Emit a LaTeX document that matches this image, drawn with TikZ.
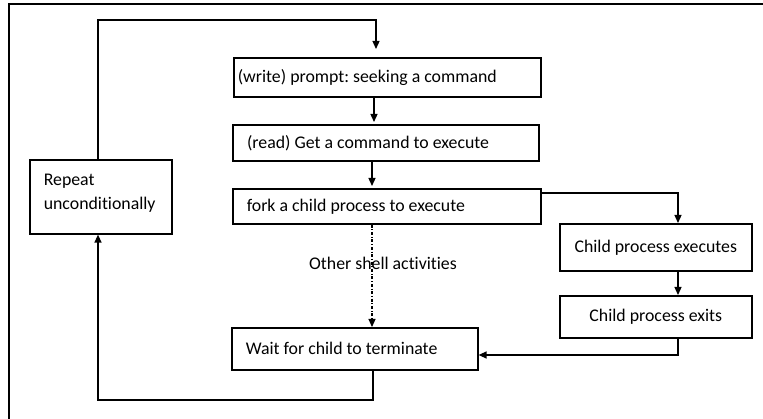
\documentclass[tikz,border=0pt]{standalone}
\usepackage{fontspec}
\setmainfont{Carlito}[Ligatures=NoCommon]
\usetikzlibrary{arrows.meta}
\frenchspacing
% use the font's own interword space inside aligned nodes
\newcommand{\fontspaces}{\spaceskip=0pt\xspaceskip=0pt\relax}
\begin{document}
\begin{tikzpicture}[x=1pt,y=-1pt,
  font=\fontsize{17.8}{25}\selectfont,
  box/.style={draw, line width=1.6pt, rectangle, anchor=north west, inner ysep=0pt},
  lbox/.style={box, align=left, inner xsep=14pt},
  cbox/.style={box, align=center},
  conn/.style={line width=1.3pt},
  arr/.style={conn, -{Triangle[length=8pt,width=7pt]}},
  dashdotline/.style={line width=1.1pt, dash pattern=on 3pt off 1.8pt on 0.8pt off 1.8pt, -{Triangle[length=8pt,width=7pt]}}
]
\useasboundingbox (0,0) rectangle (763,419);

% page frame (top and left edges)
\draw[line width=1.3pt] (9,419) -- (9,4) -- (763,4);

% boxes
\node[box, align=left, inner xsep=4pt, text width=299pt, minimum width=307pt, minimum height=39pt] (w) at (233,57) {\fontspaces(write) prompt: seeking a command};
\node[lbox, line width=2.2pt, text width=278pt, minimum width=306pt, minimum height=36pt] (r) at (232,124) {\fontspaces(read) Get a command to execute};
\node[lbox, text width=280pt, minimum width=308pt, minimum height=35pt] (f) at (232,188) {\fontspaces fork a child process to execute};
\node[lbox, text width=114pt, minimum width=142pt, minimum height=74pt] (rep) at (29,159) {Repeat\\[-1pt]unconditionally\\[-14pt]\mbox{}};
\node[lbox, text width=218pt, minimum width=246pt, minimum height=42pt] (wt) at (231,327) {\fontspaces Wait for child to terminate};
\node[cbox, minimum width=192pt, minimum height=47pt] (ce) at (559,223) {\fontspaces Child process executes};
\node[cbox, minimum width=192pt, minimum height=42pt] (cx) at (559,295) {\fontspaces Child process exits};

% label on the dash-dotted branch
\node (lbl) at (383,263) {Other shell activities};

% bend points and free ends
\coordinate (lp1) at (98,20);
\coordinate (lp2) at (376,20);
\coordinate (lpend) at (376,49);
\coordinate (fk1) at (678,193);
\coordinate (ex1) at (678,355);
\coordinate (wb1) at (373,400);
\coordinate (wb2) at (98,400);

% main loop back to the prompt
\draw[arr] (rep.north -| lp1) -- (lp1) -- (lp2) -- (lpend);
\draw[arr, shorten >=2pt] (w.south -| 374,0) -- (r.north -| 374,0);
\draw[arr, shorten >=2pt] (r.south -| 372,0) -- (f.north -| 372,0);

% child branch
\draw[arr] (f.east |- fk1) -- (fk1) -- (ce.north -| fk1);
\draw[arr] (ce.south -| fk1) -- (cx.north -| fk1);
\draw[arr] (cx.south -| ex1) -- (ex1) -- (wt.east |- ex1);

% parent continues
\draw[dashdotline] (f.south -| 372,0) -- (wt.north -| 372,0);
\draw[arr] (wt.south -| wb1) -- (wb1) -- (wb2) -- (rep.south -| wb2);
\end{tikzpicture}
\end{document}
